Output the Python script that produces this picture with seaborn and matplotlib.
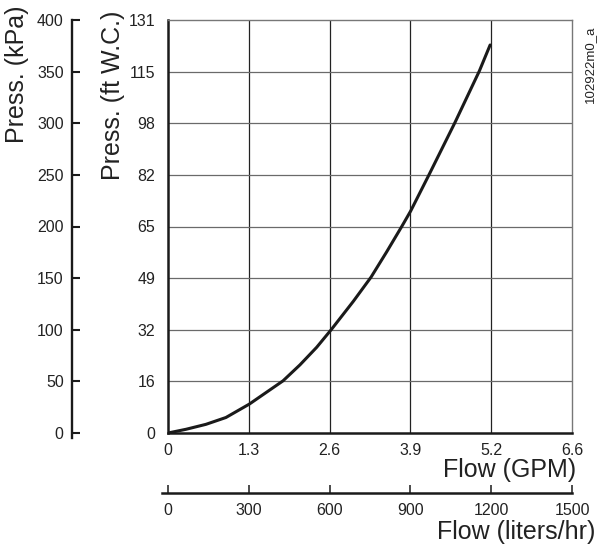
import matplotlib
matplotlib.use('Agg')
import matplotlib.pyplot as plt
import seaborn as sns
import pandas as pd

# ---- data ----
flow_lph = [0, 67, 141, 215, 302, 427, 490, 552, 607, 688, 754, 812,
            869, 901, 970, 1066, 1156, 1196]
press_kpa = [0, 3.6, 8.4, 15.0, 28.0, 50.5, 66.0, 83.0, 100.4, 127.5,
             151.0, 175.5, 200.5, 215.0, 250.6, 301.0, 350.6, 375.8]

lph_ticks = [0, 300, 600, 900, 1200, 1500]
lph_labels = ['0', '300', '600', '900', '1200', '1500']
gpm_labels = ['0', '1.3', '2.6', '3.9', '5.2', '6.6']
kpa_ticks = [0, 50, 100, 150, 200, 250, 300, 350, 400]
kpa_labels = ['0', '50', '100', '150', '200', '250', '300', '350', '400']
ftwc_labels = ['0', '16', '32', '49', '65', '82', '98', '115', '131']

df = pd.DataFrame({'flow': flow_lph, 'press': press_kpa})

sns.set_theme(style='white')
plt.rcParams['font.family'] = ['Liberation Sans', 'DejaVu Sans']
TXT = '#222222'
TICK_FS = 11.5
LAB_FS = 18

fig = plt.figure(figsize=(5.97, 5.46), dpi=100)
L, R, T, B = 168, 572, 20, 433
W, H = 597, 546
ax = fig.add_axes([L / W, 1 - B / H, (R - L) / W, (B - T) / H])
ax.set_facecolor('white')

sns.lineplot(data=df, x='flow', y='press', ax=ax, color='#1a1a1a',
             linewidth=2.2, sort=False)
ax.set_xlim(0, 1500)
ax.set_ylim(0, 400)

# grid
ax.set_xticks(lph_ticks)
ax.set_xticklabels(gpm_labels)
ax.set_yticks(kpa_ticks)
ax.set_yticklabels(ftwc_labels)
for v in lph_ticks[1:-1]:
    ax.axvline(v, color='#222222', lw=0.9, zorder=0.5)
for v in kpa_ticks[1:-1]:
    ax.axhline(v, color='#6a6a6a', lw=0.9, zorder=0.5)
ax.grid(False)
ax.tick_params(axis='both', length=0, labelsize=TICK_FS, colors=TXT)
ax.tick_params(axis='x', pad=7)
ax.tick_params(axis='y', pad=9)
for s in ['left', 'bottom']:
    ax.spines[s].set_color('#1a1a1a')
    ax.spines[s].set_linewidth(1.8)
for s in ['top', 'right']:
    ax.spines[s].set_color('#777777')
    ax.spines[s].set_linewidth(1.0)

ax.set_xlabel('Flow (GPM)', fontsize=LAB_FS, color=TXT, loc='right')
ax.xaxis.set_label_coords((576 - L) / (R - L), (B - 470) / (B - T))
ax.xaxis.label.set_verticalalignment('center')
ax.set_ylabel('Press. (ft W.C.)', fontsize=LAB_FS, color=TXT)
ax.yaxis.set_label_coords((113 - L) / (R - L), (B - 95) / (B - T))
ax.yaxis.label.set_verticalalignment('center')

# kPa axis on the far left
ax2 = ax.twinx()
ax2.set_ylim(0, 400)
ax2.grid(False)
for s in ['top', 'right', 'bottom']:
    ax2.spines[s].set_visible(False)
ax2.spines['left'].set_visible(True)
ax2.spines['left'].set_position(('axes', (72 - L) / (R - L)))
ax2.spines['left'].set_color('#1a1a1a')
ax2.spines['left'].set_linewidth(1.7)
ax2.spines['left'].set_bounds(-5 * 400 / (B - T), 400)
ax2.yaxis.set_ticks_position('left')
ax2.yaxis.set_label_position('left')
ax2.set_yticks(kpa_ticks)
ax2.set_yticklabels(kpa_labels)
ax2.tick_params(axis='y', direction='in', length=5.5, width=1.5,
                color='#1a1a1a', pad=6, labelsize=TICK_FS, labelcolor=TXT)
ax2.set_ylabel('Press. (kPa)', fontsize=LAB_FS, color=TXT)
ax2.yaxis.set_label_coords((17.5 - L) / (R - L), (B - 74) / (B - T))
ax2.yaxis.label.set_verticalalignment('center')

# liters/hr axis at the bottom
ax3 = ax.twiny()
ax3.set_xlim(0, 1500)
ax3.grid(False)
for s in ['top', 'right', 'left']:
    ax3.spines[s].set_visible(False)
ax3.spines['bottom'].set_visible(True)
ax3.spines['bottom'].set_position(('axes', (B - 493) / (B - T)))
ax3.spines['bottom'].set_color('#1a1a1a')
ax3.spines['bottom'].set_linewidth(1.8)
ax3.spines['bottom'].set_bounds(-6 * 1500 / (R - L), 1500)
ax3.xaxis.set_ticks_position('bottom')
ax3.xaxis.set_label_position('bottom')
ax3.set_xticks(lph_ticks)
ax3.set_xticklabels(lph_labels)
ax3.tick_params(axis='x', direction='in', length=6, width=1.1,
                color='#1a1a1a', pad=7, labelsize=TICK_FS, labelcolor=TXT)
ax3.set_xlabel('Flow (liters/hr)', fontsize=LAB_FS, color=TXT, loc='right')
ax3.xaxis.set_label_coords((595 - L) / (R - L), (B - 531.7) / (B - T))
ax3.xaxis.label.set_verticalalignment('center')

fig.text(590 / W, 1 - 64 / H, '102922m0_a', rotation=90, ha='center',
         va='center', fontsize=9.5, color=TXT)

fig.savefig('out.png', dpi=100, facecolor='white')
